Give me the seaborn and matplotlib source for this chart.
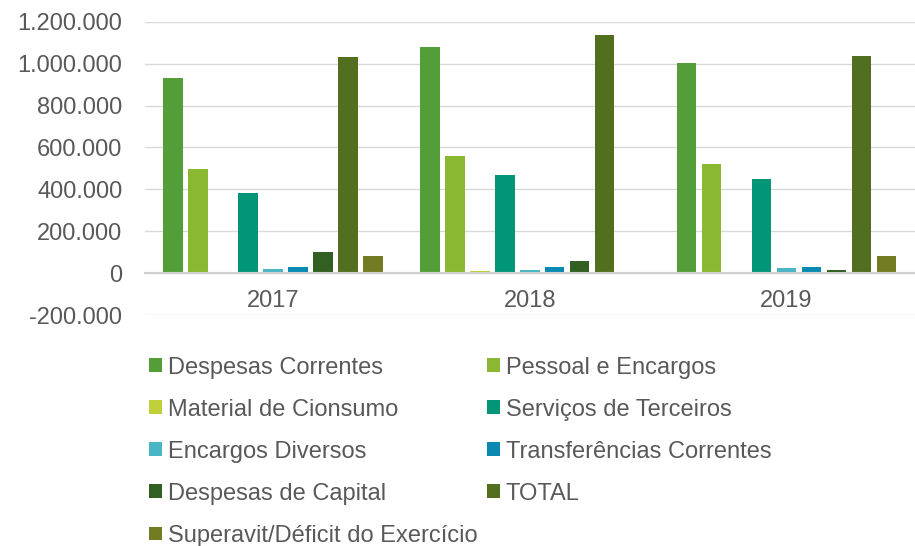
import pandas as pd
import seaborn as sns
import matplotlib.pyplot as plt
from matplotlib.patches import Patch
from matplotlib.ticker import FuncFormatter

# Data
years = ["2017", "2018", "2019"]
series = [
    "Despesas Correntes",
    "Pessoal e Encargos",
    "Material de Cionsumo",
    "Serviços de Terceiros",
    "Encargos Diversos",
    "Transferências Correntes",
    "Despesas de Capital",
    "TOTAL",
    "Superavit/Déficit do Exercício",
]
values_2017 = [933000, 498000, 6000, 383000, 22000, 29000, 100000, 1033000, 80000]
values_2018 = [1081000, 560000, 9000, 469000, 14000, 30000, 57000, 1139000, 0]
values_2019 = [1005000, 522000, 6000, 450000, 25000, 30000, 13000, 1038000, 81000]

colors = ["#549E39", "#8AB833", "#C0CF3A", "#029676", "#4AB5C4",
          "#0989B1", "#325F22", "#526E1F", "#737C22"]

rows = []
for year, vals in zip(years, [values_2017, values_2018, values_2019]):
    for s, v in zip(series, vals):
        rows.append({"Ano": year, "Serie": s, "Valor": v})
df = pd.DataFrame(rows)

sns.set_style("white")
plt.rcParams["font.family"] = ["Liberation Sans", "DejaVu Sans"]
text_color = "#595959"

fig = plt.figure(figsize=(9.15, 5.46), dpi=100)
ax = fig.add_axes([0.158, 0.423, 0.842, 0.537])

sns.barplot(data=df, x="Ano", y="Valor", hue="Serie", hue_order=series,
            palette=colors, saturation=1, width=0.875, gap=0.22, linewidth=0,
            legend=False, ax=ax)

ax.set_ylim(-200000, 1200000)
ax.set_xlim(-0.5, 2.5)
ax.set_yticks(range(-200000, 1200001, 200000))
ax.yaxis.set_major_formatter(FuncFormatter(lambda v, p: f"{int(v):,}".replace(",", ".")))
ax.grid(axis="y", color="#d9d9d9", linewidth=1)
ax.set_axisbelow(True)
for side in ["top", "right", "left"]:
    ax.spines[side].set_visible(False)
ax.spines["bottom"].set_position(("data", 0))
ax.spines["bottom"].set_color("#d0d0d0")
ax.spines["bottom"].set_linewidth(1.5)
ax.tick_params(axis="both", length=0, labelsize=17, labelcolor=text_color)
ax.tick_params(axis="y", pad=16)
ax.tick_params(axis="x", pad=12)
ax.set_xlabel("")
ax.set_ylabel("")

# legend in two separate columns (Excel-style, second column overlaps the long last label)
handles = [Patch(facecolor=c, edgecolor="none") for c in colors]
leg_kw = dict(loc="upper left", frameon=False, labelcolor=text_color, fontsize=17,
              handlelength=0.55, handleheight=0.52, handletextpad=0.25,
              labelspacing=0.85, borderaxespad=0, borderpad=0)
left_idx = [0, 2, 4, 6, 8]
right_idx = [1, 3, 5, 7]
fig.legend([handles[i] for i in left_idx], [series[i] for i in left_idx],
           bbox_to_anchor=(149 / 915, 0.347), **leg_kw)
fig.legend([handles[i] for i in right_idx], [series[i] for i in right_idx],
           bbox_to_anchor=(487 / 915, 0.347), **leg_kw)

fig.savefig("out.png", dpi=100)
